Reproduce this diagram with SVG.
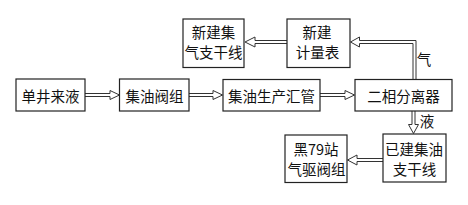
<svg xmlns="http://www.w3.org/2000/svg" width="468" height="205" viewBox="0 0 468 205">
<style>
.box{fill:#fff;stroke:#222;stroke-width:1.2}
.t{font-family:"Noto Sans CJK SC","Noto Sans",sans-serif;font-size:14.5px;fill:#111;text-anchor:middle;dominant-baseline:central}
.ar{fill:#fff;stroke:#333;stroke-width:1}
</style>
<rect width="468" height="205" fill="#fff"/>
<g id="connectors">
<path class="ar" d="M85 93.5 H110 V90.5 L119.5 95 L110 99.5 V96.5 H85"/>
<path class="ar" d="M189 93.5 H213 V90.5 L222.5 95 L213 99.5 V96.5 H189"/>
<path class="ar" d="M320 93.5 H345 V90.5 L354.5 95 L345 99.5 V96.5 H320"/>
<path class="ar" d="M413 80 V43.5 H359.5 V47 L350.5 42 L359.5 37 V40.5 H416 V80"/>
<path class="ar" d="M287 40.5 H255 V37 L245 42 L255 47 V43.5 H287"/>
<path class="ar" d="M412 111 V124.5 H408.5 L413.5 133.5 L418.5 124.5 H415 V111"/>
<path class="ar" d="M383 158.5 H357 V155 L347.5 160 L357 165 V161.5 H383"/>
<text class="t" x="424" y="58">气</text>
<text class="t" x="427" y="120">液</text>
</g>
<g id="n1"><rect class="box" x="16" y="79" width="69" height="32"/><text class="t" x="50.5" y="95.5">单井来液</text></g>
<g id="n2"><rect class="box" x="119.5" y="79" width="69.5" height="32"/><text class="t" x="154.5" y="95.5">集油阀组</text></g>
<g id="n3"><rect class="box" x="223" y="79.5" width="97" height="31.5"/><text class="t" x="271.5" y="95.5">集油生产汇管</text></g>
<g id="n4"><rect class="box" x="355" y="79.5" width="97" height="31.5"/><text class="t" x="403.5" y="95.5">二相分离器</text></g>
<g id="n5"><rect class="box" x="183" y="19" width="61" height="48.5"/><text class="t" x="213.5" y="31.5">新建集</text><text class="t" x="213.5" y="51.5">气支干线</text></g>
<g id="n6"><rect class="box" x="287" y="19" width="63" height="48.5"/><text class="t" x="317" y="31.5">新建</text><text class="t" x="317.5" y="51.5">计量表</text></g>
<g id="n7"><rect class="box" x="383" y="134" width="63" height="48"/><text class="t" x="414" y="148">已建集油</text><text class="t" x="414.5" y="168">支干线</text></g>
<g id="n8"><rect class="box" x="285" y="135" width="62" height="47.5"/><text class="t" x="316" y="148">黑79站</text><text class="t" x="316.5" y="168">气驱阀组</text></g>
</svg>
